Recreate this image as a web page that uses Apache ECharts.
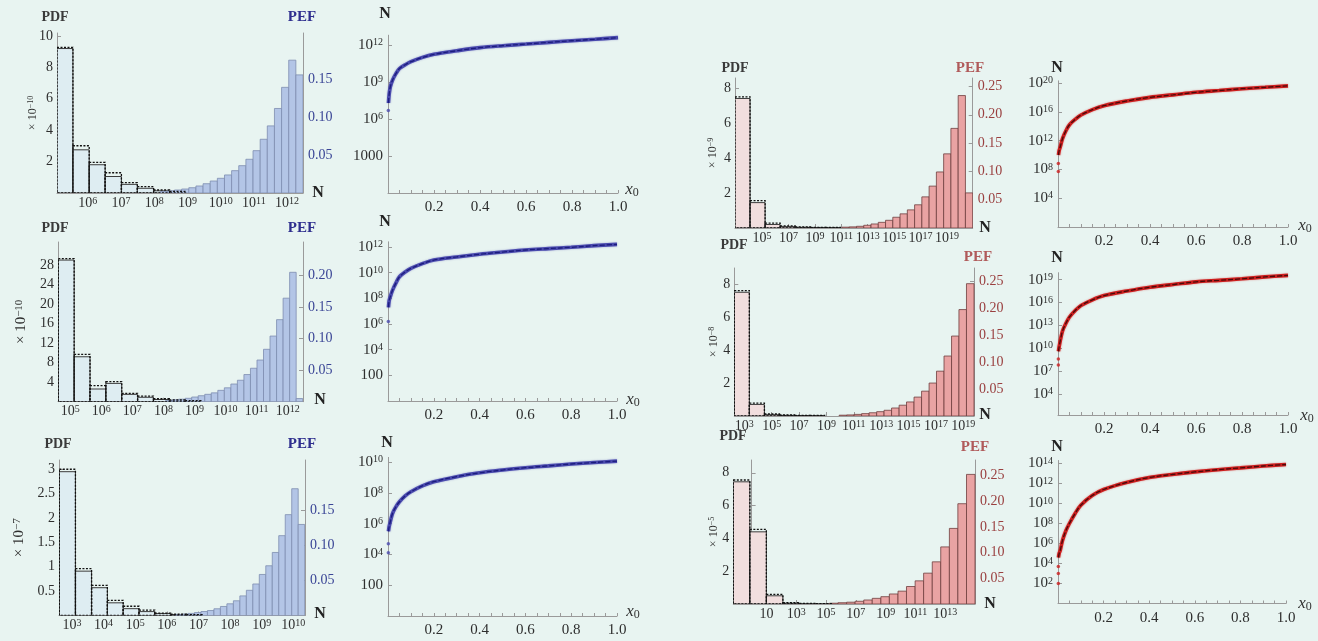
<!DOCTYPE html>
<html>
<head>
<meta charset="utf-8">
<script src="https://cdn.jsdelivr.net/npm/echarts@6/dist/echarts.min.js"></script>
<style>
  html, body { margin: 0; padding: 0; background: #e8f4f1; }
  #chart { width: 1318px; height: 641px; }
</style>
</head>
<body>
<div id="chart"></div>
<script>
// ===== Histograms: bin edges are log10(N); PDF in the panel's scaled units, PEF as a fraction =====

// A1 (blue, top)
const xTicksA1 = [6, 7, 8, 9, 10, 11, 12];
const pdfTicksA1 = [2, 4, 6, 8, 10];
const pefTicksA1 = [0.05, 0.10, 0.15];
const pdfEdgesA1 = [5.07, 5.55, 6.04, 6.52, 7.01, 7.49, 7.98, 8.46, 8.95];
const pdfFillA1 = [9.2, 2.75, 1.8, 1.05, 0.55, 0.3, 0.14, 0.07];
const pdfLineA1 = [9.28, 3.01, 1.95, 1.29, 0.66, 0.40, 0.19, 0.10];
const pefEdgesA1 = [8.18, 8.395, 8.61, 8.825, 9.04, 9.255, 9.47, 9.685, 9.90, 10.115, 10.33,
  10.545, 10.76, 10.975, 11.19, 11.405, 11.62, 11.835, 12.05, 12.265, 12.48];
const pefA1 = [0.002, 0.003, 0.004, 0.0053, 0.0070, 0.0093, 0.0123, 0.0159, 0.0195, 0.0239,
  0.0296, 0.0362, 0.0447, 0.0561, 0.0712, 0.0889, 0.112, 0.140, 0.176, 0.1565];

// A2 (blue, middle)
const xTicksA2 = [5, 6, 7, 8, 9, 10, 11, 12];
const pdfTicksA2 = [4, 8, 12, 16, 20, 24, 28];
const pefTicksA2 = [0.05, 0.10, 0.15, 0.20];
const pdfEdgesA2 = [4.62, 5.13, 5.64, 6.15, 6.66, 7.17, 7.68, 8.19, 8.70, 9.21];
const pdfFillA2 = [29.0, 9.2, 2.6, 3.75, 1.5, 0.9, 0.45, 0.25, 0.15];
const pdfLineA2 = [29.3, 9.7, 3.3, 4.1, 1.7, 1.15, 0.6, 0.35, 0.2];
const pefEdgesA2 = [8.07, 8.28, 8.49, 8.70, 8.91, 9.12, 9.33, 9.54, 9.75, 9.96, 10.17,
  10.38, 10.59, 10.80, 11.01, 11.22, 11.43, 11.64, 11.85, 12.06, 12.27, 12.48];
const pefA2 = [0.002, 0.003, 0.004, 0.0054, 0.0074, 0.0095, 0.0117, 0.014, 0.018, 0.022, 0.028,
  0.034, 0.043, 0.053, 0.066, 0.083, 0.104, 0.130, 0.164, 0.205, 0.005];

// A3 (blue, bottom)
const xTicksA3 = [3, 4, 5, 6, 7, 8, 9, 10];
const pdfTicksA3 = [0.5, 1, 1.5, 2, 2.5, 3];
const pefTicksA3 = [0.05, 0.10, 0.15];
const pdfEdgesA3 = [2.60, 3.11, 3.62, 4.12, 4.62, 5.12, 5.62, 6.12, 6.62, 7.12];
const pdfFillA3 = [2.95, 0.91, 0.57, 0.26, 0.14, 0.08, 0.04, 0.02, 0.01];
const pdfLineA3 = [3.0, 0.96, 0.62, 0.31, 0.19, 0.11, 0.05, 0.03, 0.02];
const pefEdgesA3 = [6.26, 6.465, 6.67, 6.875, 7.08, 7.285, 7.49, 7.695, 7.90, 8.105, 8.31,
  8.515, 8.72, 8.925, 9.13, 9.335, 9.54, 9.745, 9.95, 10.155, 10.36];
const pefA3 = [0.0015, 0.002, 0.003, 0.0042, 0.0057, 0.0071, 0.0096, 0.0129, 0.0167, 0.021,
  0.028, 0.036, 0.045, 0.0586, 0.071, 0.090, 0.114, 0.144, 0.181, 0.13];

// C1 (red, top)
const xTicksC1 = [5, 7, 9, 11, 13, 15, 17, 19];
const pdfTicksC1 = [2, 4, 6, 8];
const pefTicksC1 = [0.05, 0.10, 0.15, 0.20, 0.25];
const pdfEdgesC1 = [2.95, 4.09, 5.23, 6.37, 7.51, 8.65, 9.79, 10.93];
const pdfFillC1 = [7.4, 1.45, 0.2, 0.08, 0.04, 0.03, 0.02];
const pdfLineC1 = [7.49, 1.56, 0.28, 0.12, 0.06, 0.04, 0.03];
const pefEdgesC1 = [11.05, 11.60, 12.15, 12.70, 13.25, 13.80, 14.35, 14.90, 15.45, 16.00,
  16.55, 17.10, 17.65, 18.20, 18.75, 19.30, 19.85, 20.40, 20.95];
const pefC1 = [0.0015, 0.002, 0.003, 0.0048, 0.0071, 0.010, 0.0136, 0.019, 0.025, 0.032,
  0.041, 0.055, 0.074, 0.099, 0.131, 0.176, 0.234, 0.062];

// C2 (red, middle)
const xTicksC2 = [3, 5, 7, 9, 11, 13, 15, 17, 19];
const pdfTicksC2 = [2, 4, 6, 8];
const pefTicksC2 = [0.05, 0.10, 0.15, 0.20, 0.25];
const pdfEdgesC2 = [2.27, 3.37, 4.47, 5.57, 6.67, 7.77, 8.87];
const pdfFillC2 = [7.5, 0.7, 0.08, 0.04, 0.03, 0.02];
const pdfLineC2 = [7.6, 0.78, 0.12, 0.06, 0.04, 0.03];
const pefEdgesC2 = [9.93, 10.48, 11.02, 11.57, 12.12, 12.67, 13.21, 13.76, 14.31, 14.85,
  15.40, 15.95, 16.50, 17.04, 17.59, 18.14, 18.68, 19.23, 19.78];
const pefC2 = [0.0015, 0.002, 0.003, 0.0044, 0.006, 0.008, 0.0106, 0.0148, 0.020, 0.026,
  0.035, 0.046, 0.061, 0.083, 0.111, 0.148, 0.197, 0.245];

// C3 (red, bottom)
const xTicksC3 = [1, 3, 5, 7, 9, 11, 13];
const pdfTicksC3 = [2, 4, 6, 8];
const pefTicksC3 = [0.05, 0.10, 0.15, 0.20, 0.25];
const pdfEdgesC3 = [-1.23, -0.12, 0.99, 2.10, 3.21, 4.32, 5.43];
const pdfFillC3 = [7.45, 4.4, 0.5, 0.05, 0.02, 0.01];
const pdfLineC3 = [7.56, 4.55, 0.59, 0.08, 0.03, 0.02];
const pefEdgesC3 = [5.23, 5.80, 6.38, 6.95, 7.53, 8.10, 8.68, 9.25, 9.83, 10.40, 10.98,
  11.55, 12.13, 12.70, 13.28, 13.85, 14.43, 15.00];
const pefC3 = [0.0015, 0.0025, 0.0035, 0.0053, 0.0078, 0.011, 0.0142, 0.0195, 0.025, 0.034,
  0.045, 0.060, 0.082, 0.111, 0.147, 0.195, 0.252];

// ===== N(x0) curves: log10(N) sampled at x0 =====
const x0Samples = [0.002, 0.005, 0.01, 0.02, 0.035, 0.05, 0.075, 0.1, 0.15, 0.2,
  0.3, 0.4, 0.5, 0.6, 0.7, 0.8, 0.9, 1.0];
const x0Ticks = [0.2, 0.4, 0.6, 0.8, 1.0];
const x0MinorTicks = [0.05, 0.1, 0.15, 0.2, 0.25, 0.3, 0.35, 0.4, 0.45, 0.5,
  0.55, 0.6, 0.65, 0.7, 0.75, 0.8, 0.85, 0.9, 0.95, 1.0];

const logNB1 = [7.3, 8.0, 8.6, 9.17, 9.7, 10.1, 10.4, 10.65, 11.0, 11.25, 11.54, 11.79, 11.95, 12.08, 12.22, 12.35, 12.47, 12.6];
const startB1 = [6.7];
const yTicksB1 = [3, 6, 9, 12];

const logNB2 = [7.3, 7.8, 8.12, 8.64, 9.2, 9.68, 10.05, 10.33, 10.7, 10.98, 11.22, 11.43, 11.6, 11.76, 11.87, 11.97, 12.1, 12.2];
const startB2 = [6.2];
const yTicksB2 = [2, 4, 6, 8, 10, 12];

const logNB3 = [5.5, 5.8, 6.12, 6.67, 7.1, 7.42, 7.8, 8.07, 8.45, 8.72, 9.05, 9.3, 9.48, 9.63, 9.75, 9.87, 9.97, 10.06];
const startB3 = [4.7, 4.1];
const yTicksB3 = [2, 4, 6, 8, 10];

const logND1 = [10.0, 10.6, 11.15, 12.3, 13.4, 14.2, 14.95, 15.55, 16.3, 16.85, 17.5, 18.0, 18.35, 18.7, 18.95, 19.2, 19.4, 19.6];
const startD1 = [8.8, 7.7];
const yTicksD1 = [4, 8, 12, 16, 20];

const logND2 = [9.6, 10.2, 11.0, 12.3, 13.3, 14.1, 14.95, 15.6, 16.35, 16.9, 17.5, 18.0, 18.35, 18.7, 18.9, 19.1, 19.35, 19.55];
const startD2 = [8.6, 7.8];
const yTicksD2 = [4, 7, 10, 13, 16, 19];

const logND3 = [4.6, 5.0, 5.33, 6.33, 7.3, 8.0, 9.0, 9.83, 10.8, 11.4, 12.1, 12.6, 12.9, 13.16, 13.38, 13.56, 13.75, 13.9];
const startD3 = [3.7, 3.0, 2.0];
const yTicksD3 = [2, 4, 6, 8, 10, 12, 14];

// ===== styling =====
const SERIF = '"Liberation Serif","DejaVu Serif","Times New Roman",serif';
const AXIS = '#9a9a9a';
const TEXT = '#2e2e2e';
const BLUE = {pdfFill: '#deedf2', pefFill: '#b3c5e6', pefEdge: '#7d8db0', tick: '#3a4596', title: '#2e2e8e',
  line: '#4a4aae', core: '#1c1c7e', glow: 'rgba(70,70,170,0.45)'};
const RED = {pdfFill: '#f1dede', pefFill: '#e9a3a3', pefEdge: '#6e3d3d', tick: '#9a4040', title: '#b05a5a',
  line: '#cc1e1e', core: '#4a0a0a', glow: 'rgba(200,30,30,0.45)'};

function supRich(size, color) {
  return {
    b: {fontFamily: SERIF, fontSize: size, lineHeight: size, color: color, verticalAlign: 'bottom', padding: [4, 0, 0, 0]},
    s: {fontFamily: SERIF, fontSize: Math.round(size * 0.68), lineHeight: Math.round(size * 0.7), color: color, verticalAlign: 'top'}
  };
}

const grid = [], xAxis = [], yAxis = [], series = [], graphic = [];

function label(text, pos, opt) {
  graphic.push({
    type: 'text', x: pos[0], y: pos[1], z: 50,
    style: Object.assign({
      text: text, fill: TEXT, font: 'bold 14px ' + SERIF,
      textAlign: 'center', textVerticalAlign: 'middle'
    }, opt || {})
  });
}

function rects(edges, heights, xi, yi, style, z) {
  return {
    type: 'custom', xAxisIndex: xi, yAxisIndex: yi, z: z, clip: true,
    data: heights.map((v, i) => [edges[i], edges[i + 1], v]),
    encode: {x: [0, 1], y: 2},
    renderItem(params, api) {
      const a = api.coord([api.value(0), api.value(2)]);
      const b = api.coord([api.value(1), 0]);
      return {
        type: 'rect',
        shape: {x: a[0], y: a[1], width: b[0] - a[0], height: b[1] - a[1]},
        style: Object.assign({}, style)
      };
    }
  };
}

function histogram(d, L, pal) {
  const gi = grid.length;
  grid.push({left: L.left, top: L.top, width: L.right - L.left, height: L.bottom - L.top});
  const xi = xAxis.length;
  xAxis.push({
    type: 'value', gridIndex: gi, min: L.xMin, max: L.xMax,
    axisLine: {lineStyle: {color: AXIS}},
    axisTick: {customValues: d.xTicks, inside: true, length: 4, lineStyle: {color: AXIS}},
    axisLabel: {
      customValues: d.xTicks, margin: 3,
      formatter: v => v === 1 ? '{b|10}' : '{b|10}{s|' + v + '}',
      rich: supRich(14, TEXT)
    },
    splitLine: {show: false}
  });
  const yl = yAxis.length;
  yAxis.push({
    type: 'value', gridIndex: gi, position: 'left', min: 0, max: L.pdfMax,
    axisLine: {show: true, lineStyle: {color: AXIS}},
    axisTick: {customValues: d.pdfTicks, inside: true, length: 4, lineStyle: {color: AXIS}},
    axisLabel: {customValues: d.pdfTicks, margin: 4, color: TEXT, fontFamily: SERIF, fontSize: 14},
    splitLine: {show: false},
    name: '× 10{s|' + d.scaleExp + '}', nameLocation: 'middle', nameRotate: 90, nameGap: L.scaleGap,
    nameMoveOverlap: false,
    nameTextStyle: {color: TEXT, fontFamily: SERIF, fontSize: L.scaleSize,
      rich: {s: {fontFamily: SERIF, fontSize: Math.round(L.scaleSize * 0.7), color: TEXT, verticalAlign: 'top'}}}
  });
  yAxis.push({
    type: 'value', gridIndex: gi, position: 'right', min: 0, max: L.pefMax,
    axisLine: {show: true, lineStyle: {color: AXIS}},
    axisTick: {customValues: d.pefTicks, inside: true, length: 4, lineStyle: {color: AXIS}},
    axisLabel: {customValues: d.pefTicks, margin: 5, color: pal.tick, fontFamily: SERIF, fontSize: 14,
      formatter: v => v.toFixed(2)},
    splitLine: {show: false}
  });
  series.push(rects(d.pdfEdges, d.pdfFill, xi, yl,
    {fill: pal.pdfFill, stroke: '#3c3c3c', lineWidth: 1}, 2));
  series.push(rects(d.pefEdges, d.pef, xi, yl + 1,
    {fill: pal.pefFill, stroke: pal.pefEdge, lineWidth: 0.8}, 2));
  series.push(rects(d.pdfEdges, d.pdfLine, xi, yl,
    {fill: 'transparent', stroke: '#111', lineWidth: 1.3, lineDash: [2, 1.5]}, 3));
  label('PDF', L.pdfPos, {fill: '#3a3a3a'});
  label('PEF', L.pefPos, {fill: pal.title, font: 'bold 15px ' + SERIF});
  label('N', L.nPos, {fill: '#222', font: 'bold 16px ' + SERIF});
}

function curve(d, L, pal) {
  const gi = grid.length;
  grid.push({left: L.left, top: L.top, width: L.right - L.left, height: L.bottom - L.top});
  const xi = xAxis.length;
  xAxis.push({
    type: 'value', gridIndex: gi, min: 0, max: 1,
    axisLine: {lineStyle: {color: AXIS}},
    axisTick: {customValues: x0MinorTicks, inside: true, length: 3, lineStyle: {color: AXIS}},
    axisLabel: {customValues: x0Ticks, margin: 7, color: TEXT, fontFamily: SERIF, fontSize: 15,
      formatter: v => v.toFixed(1)},
    splitLine: {show: false}
  });
  const yi = yAxis.length;
  yAxis.push({
    type: 'value', gridIndex: gi, min: L.yMin, max: L.yMax,
    axisLine: {show: true, lineStyle: {color: AXIS}},
    axisTick: {customValues: d.yTicks, inside: true, length: 4, lineStyle: {color: AXIS}},
    axisLabel: {
      customValues: d.yTicks, margin: 5,
      formatter: v => v <= d.plainUpTo ? '{b|' + Math.pow(10, v) + '}' : '{b|10}{s|' + v + '}',
      rich: supRich(15, TEXT)
    },
    splitLine: {show: false}
  });
  const pts = x0Samples.map((x, i) => [x, d.logN[i]]);
  series.push({
    type: 'line', xAxisIndex: xi, yAxisIndex: yi, data: pts, smooth: 0.35,
    showSymbol: false, silent: true, z: 3,
    lineStyle: {color: pal.line, width: 3.6, shadowColor: pal.glow, shadowBlur: 2}
  });
  series.push({
    type: 'line', xAxisIndex: xi, yAxisIndex: yi, data: pts, smooth: 0.35,
    showSymbol: false, silent: true, z: 4,
    lineStyle: {color: pal.core, width: 1.3, type: [5, 2]}
  });
  series.push({
    type: 'scatter', xAxisIndex: xi, yAxisIndex: yi, z: 4, symbolSize: 3.5, silent: true,
    data: d.start.map(v => [0.0015, v]), itemStyle: {color: pal.line}
  });
  label('N', L.nPos, {fill: '#222', font: 'bold 16px ' + SERIF});
  label('{i|x}{u|0}', L.xPos, {
    font: 'italic 17px ' + SERIF,
    rich: {
      i: {fontFamily: SERIF, fontStyle: 'italic', fontSize: 17, fill: '#333', verticalAlign: 'top', lineHeight: 17},
      u: {fontFamily: SERIF, fontSize: 12, fill: '#333', verticalAlign: 'bottom', lineHeight: 12, padding: [8, 0, 0, 0]}
    }
  });
}

// ----- assemble panels -----
histogram({xTicks: xTicksA1, pdfTicks: pdfTicksA1, pefTicks: pefTicksA1, pdfEdges: pdfEdgesA1, pdfFill: pdfFillA1,
  pdfLine: pdfLineA1, pefEdges: pefEdgesA1, pef: pefA1, scaleExp: '−10'},
  {left: 57, right: 303, top: 33, bottom: 193, xMin: 5.07, xMax: 12.48, pdfMax: 10.19, pefMax: 0.212,
   scaleGap: 18, scaleSize: 12, pdfPos: [55, 17], pefPos: [302, 17], nPos: [318, 193]}, BLUE);
histogram({xTicks: xTicksA2, pdfTicks: pdfTicksA2, pefTicks: pefTicksA2, pdfEdges: pdfEdgesA2, pdfFill: pdfFillA2,
  pdfLine: pdfLineA2, pefEdges: pefEdgesA2, pef: pefA2, scaleExp: '−10'},
  {left: 58, right: 303, top: 242, bottom: 401.7, xMin: 4.61, xMax: 12.49, pdfMax: 32.7, pefMax: 0.253,
   scaleGap: 29, scaleSize: 15, pdfPos: [55, 228], pefPos: [302, 228], nPos: [320, 400]}, BLUE);
histogram({xTicks: xTicksA3, pdfTicks: pdfTicksA3, pefTicks: pefTicksA3, pdfEdges: pdfEdgesA3, pdfFill: pdfFillA3,
  pdfLine: pdfLineA3, pefEdges: pefEdgesA3, pef: pefA3, scaleExp: '−7'},
  {left: 59, right: 305, top: 460, bottom: 615.5, xMin: 2.59, xMax: 10.37, pdfMax: 3.19, pefMax: 0.222,
   scaleGap: 32, scaleSize: 15, pdfPos: [58, 444], pefPos: [302, 444], nPos: [320, 614]}, BLUE);
histogram({xTicks: xTicksC1, pdfTicks: pdfTicksC1, pefTicks: pefTicksC1, pdfEdges: pdfEdgesC1, pdfFill: pdfFillC1,
  pdfLine: pdfLineC1, pefEdges: pefEdgesC1, pef: pefC1, scaleExp: '−9'},
  {left: 735, right: 972.7, top: 78, bottom: 228, xMin: 2.95, xMax: 20.95, pdfMax: 8.57, pefMax: 0.265,
   scaleGap: 16, scaleSize: 12, pdfPos: [735, 68], pefPos: [970, 68], nPos: [985, 228]}, RED);
histogram({xTicks: xTicksC2, pdfTicks: pdfTicksC2, pefTicks: pefTicksC2, pdfEdges: pdfEdgesC2, pdfFill: pdfFillC2,
  pdfLine: pdfLineC2, pefEdges: pefEdgesC2, pef: pefC2, scaleExp: '−8'},
  {left: 734.3, right: 974, top: 268, bottom: 416, xMin: 2.27, xMax: 19.78, pdfMax: 8.97, pefMax: 0.274,
   scaleGap: 14, scaleSize: 12, pdfPos: [734, 245], pefPos: [978, 257], nPos: [985, 415]}, RED);
histogram({xTicks: xTicksC3, pdfTicks: pdfTicksC3, pefTicks: pefTicksC3, pdfEdges: pdfEdgesC3, pdfFill: pdfFillC3,
  pdfLine: pdfLineC3, pefEdges: pefEdgesC3, pef: pefC3, scaleExp: '−5'},
  {left: 733.3, right: 975, top: 460, bottom: 604, xMin: -1.23, xMax: 15.0, pdfMax: 8.78, pefMax: 0.28,
   scaleGap: 13, scaleSize: 12, pdfPos: [733, 436], pefPos: [975, 447], nPos: [990, 604]}, RED);

curve({logN: logNB1, start: startB1, yTicks: yTicksB1, plainUpTo: 3},
  {left: 388, right: 618, top: 35.2, bottom: 193, yMin: 0, yMax: 12.8, nPos: [385, 14], xPos: [632, 190]}, BLUE);
curve({logN: logNB2, start: startB2, yTicks: yTicksB2, plainUpTo: 3},
  {left: 388, right: 617, top: 241.8, bottom: 401, yMin: 0, yMax: 12.4, nPos: [385, 222], xPos: [633, 400]}, BLUE);
curve({logN: logNB3, start: startB3, yTicks: yTicksB3, plainUpTo: 3},
  {left: 388, right: 617, top: 457.4, bottom: 616, yMin: 0, yMax: 10.3, nPos: [387, 443], xPos: [633, 612]}, BLUE);
curve({logN: logND1, start: startD1, yTicks: yTicksD1, plainUpTo: -1},
  {left: 1058, right: 1288, top: 80.8, bottom: 227, yMin: 0, yMax: 20.3, nPos: [1057, 68], xPos: [1305, 226]}, RED);
curve({logN: logND2, start: startD2, yTicks: yTicksD2, plainUpTo: -1},
  {left: 1058, right: 1288, top: 272.7, bottom: 415, yMin: 1.25, yMax: 19.9, nPos: [1057, 258], xPos: [1307, 416]}, RED);
curve({logN: logND3, start: startD3, yTicks: yTicksD3, plainUpTo: -1},
  {left: 1058, right: 1286, top: 460.5, bottom: 603.5, yMin: 0, yMax: 14.3, nPos: [1057, 447], xPos: [1305, 604]}, RED);

const chart = echarts.init(document.getElementById('chart'), null, {renderer: 'canvas'});
chart.setOption({
  backgroundColor: '#e8f4f1',
  animation: false,
  grid: grid, xAxis: xAxis, yAxis: yAxis, series: series, graphic: graphic
});
</script>
</body>
</html>
